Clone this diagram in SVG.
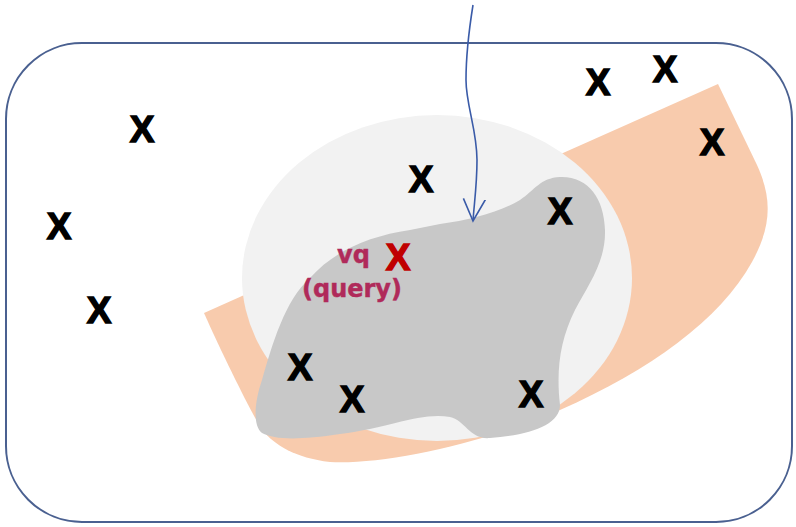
<svg xmlns="http://www.w3.org/2000/svg" width="796" height="527" viewBox="0 0 796 527">
<style>
.x{font-family:"Liberation Sans",Arial,sans-serif;font-weight:bold;font-size:37px;fill:#000;stroke:#000;stroke-width:1.4;text-anchor:middle}
.r{fill:#c00000;stroke:#c00000}
.q{font-family:"DejaVu Sans",Verdana,sans-serif;font-weight:bold;font-size:24px;fill:#b02a5a;stroke:#b02a5a;stroke-width:0.4}
.conn{fill:none;stroke:#3a5ba8;stroke-width:1.6}
</style>
<defs>
<marker id="arr" viewBox="0 0 24 24" refX="22" refY="12" markerWidth="24" markerHeight="24" markerUnits="userSpaceOnUse" orient="auto">
<path d="M0,1 L22,12 L0,23" fill="none" stroke="#3a5ba8" stroke-width="1.6"/>
</marker>
</defs>
<g id="space">
<rect x="6" y="43" width="786" height="479" rx="76" ry="76" fill="#fff" stroke="#4a6090" stroke-width="2"/>
</g>
<g id="region-orange">
<path d="M204,313 L718,84 L757,165 C772,198 772,225 752,262 C720,320 650,370 560,410 C480,445 380,465 330,462 C295,458 275,445 262,430 C250,410 225,360 204,313 Z" fill="#f8cbad"/>
</g>
<g id="region-circle">
<ellipse cx="437" cy="278" rx="195" ry="163" fill="#f2f2f2"/>
</g>
<g id="region-blob">
<path d="M262,433 C252,425 255,400 262,380 C272,345 285,300 310,278 C335,250 370,236 410,230 L440,224 C470,220 500,212 520,200 C535,190 540,178 560,177 C588,176 604,198 605,230 C606,262 588,285 575,310 C560,340 556,370 560,405 C560,425 530,435 490,438 C470,440 465,420 450,417 C420,412 390,428 340,434 C300,440 275,440 262,433 Z" fill="#c8c8c8"/>
</g>
<g id="points">
<text class="x" x="142" y="142">X</text>
<text class="x" x="598" y="95">X</text>
<text class="x" x="665" y="82">X</text>
<text class="x" x="712" y="155">X</text>
<text class="x" x="421" y="192">X</text>
<text class="x" x="560" y="224">X</text>
<text class="x" x="59" y="239">X</text>
<text class="x" x="99" y="323">X</text>
<text class="x" x="300" y="380">X</text>
<text class="x" x="352" y="412">X</text>
<text class="x" x="531" y="407">X</text>
</g>
<g id="query">
<text class="x r" x="398" y="270">X</text>
<text class="q" x="337" y="263">vq</text>
<text class="q" x="302" y="297">(query)</text>
</g>
<g id="connectors">
<path class="conn" d="M473,5 C469,30 466,55 466,80 C466,105 477,130 477,160 C477,185 474,205 473,221" marker-end="url(#arr)"/>
</g>
</svg>
